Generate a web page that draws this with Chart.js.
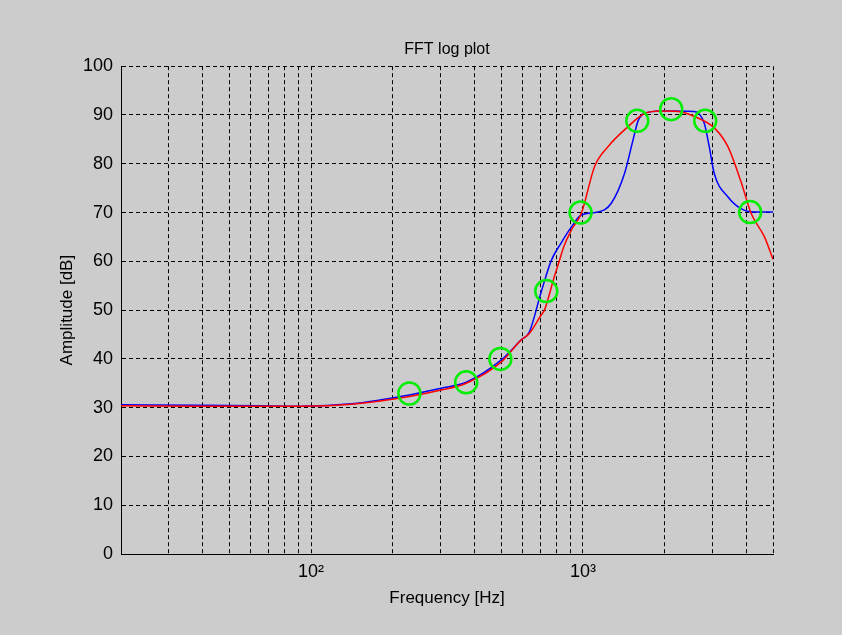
<!DOCTYPE html>
<html>
<head>
<meta charset="utf-8">
<script src="https://cdn.jsdelivr.net/npm/chart.js@4/dist/chart.umd.min.js"></script>
<style>
  html, body { margin: 0; padding: 0; background: #cccccc; }
  #fftChart { display: block; }
</style>
</head>
<body>
<canvas id="fftChart" width="842" height="635"></canvas>
<script>
// frequency grid (Hz) and the decades that get a label
const xTicks = [20, 30, 40, 50, 60, 70, 80, 90,
                100, 200, 300, 400, 500, 600, 700, 800, 900,
                1000, 2000, 3000, 4000, 5000];
const decadeTicks = [100, 1000];
const yTicks = [0, 10, 20, 30, 40, 50, 60, 70, 80, 90, 100];

// measured points (green circles)
const markerFreq = [230, 372, 497, 733, 980, 1584, 2112, 2817, 4120];
const markerAmp  = [32.9, 35.2, 40.0, 53.9, 70.0, 88.8, 91.2, 88.8, 70.1];

// blue curve
const blueFreq = [20, 40, 64, 92, 141, 230, 301, 372, 501, 593, 635, 702, 765, 832, 906, 986,
                  1138, 1271, 1422, 1527, 1597, 1680, 1941, 2566, 2793, 2914, 3040, 3416, 3814, 4263, 5000];
const blueAmp  = [30.6, 30.5, 30.4, 30.3, 30.8, 32.6, 34.0, 35.2, 39.8, 43.9, 45.5, 53.7, 60.2, 63.8, 67.0, 69.5,
                  70.1, 71.9, 78.0, 84.8, 88.9, 90.3, 90.8, 90.7, 88.3, 83.5, 78.0, 73.2, 70.8, 70.1, 70.1];

// red curve
const redFreq = [20, 40, 64, 92, 141, 230, 301, 372, 501, 593, 635, 702, 722, 784, 820, 850, 906, 986,
                 1103, 1236, 1464, 1684, 1941, 2235, 2570, 3047, 3413, 3814, 4157, 4652, 5000];
const redAmp  = [30.4, 30.3, 30.3, 30.3, 30.7, 32.3, 33.6, 35.0, 39.4, 43.9, 45.2, 49.0, 50.0, 56.8, 60.2, 63.0, 66.4, 69.8,
                 79.4, 83.5, 87.6, 90.3, 90.8, 90.7, 89.7, 87.3, 83.5, 76.3, 69.8, 65.0, 60.4];

const toPoints = (fs, as) => fs.map((f, i) => ({ x: f, y: as[i] }));

// white plot area, solid box and inward tick marks
const axesFrame = {
  id: 'axesFrame',
  beforeDraw(chart) {
    const { ctx, chartArea: a } = chart;
    ctx.save();
    ctx.fillStyle = '#ffffff';
    ctx.fillRect(a.left, a.top, a.right - a.left, a.bottom - a.top);
    ctx.restore();
  },
  beforeDatasetsDraw(chart) {
    const { ctx, chartArea: a, scales: { x, y } } = chart;
    ctx.save();
    ctx.strokeStyle = '#000000';
    ctx.lineWidth = 1;
    ctx.beginPath();
    xTicks.forEach(v => {
      const px = Math.round(x.getPixelForValue(v)) + 0.5;
      const len = decadeTicks.includes(v) ? 7 : 4;
      ctx.moveTo(px, a.bottom); ctx.lineTo(px, a.bottom - len);
      ctx.moveTo(px, a.top); ctx.lineTo(px, a.top + len);
    });
    yTicks.forEach(v => {
      const py = Math.round(y.getPixelForValue(v)) + 0.5;
      ctx.moveTo(a.left, py); ctx.lineTo(a.left + 7, py);
      ctx.moveTo(a.right, py); ctx.lineTo(a.right - 7, py);
    });
    ctx.stroke();
    ctx.strokeRect(Math.round(a.left) + 0.5, Math.round(a.top) + 0.5,
                   Math.round(a.right - a.left) - 1, Math.round(a.bottom - a.top) - 1);
    ctx.restore();
  }
};

Chart.defaults.font.family = '"Liberation Sans", Arial, sans-serif';
Chart.defaults.color = '#000000';

new Chart(document.getElementById('fftChart'), {
  type: 'line',
  data: {
    datasets: [
      {
        data: toPoints(markerFreq, markerAmp),
        showLine: false,
        pointRadius: 11,
        pointBorderWidth: 2.5,
        pointBorderColor: '#00ee00',
        pointBackgroundColor: 'rgba(0,0,0,0)'
      },
      {
        data: toPoints(redFreq, redAmp),
        borderColor: '#ff0000',
        borderWidth: 1.5,
        pointRadius: 0,
        cubicInterpolationMode: 'monotone'
      },
      {
        data: toPoints(blueFreq, blueAmp),
        borderColor: '#0000ff',
        borderWidth: 1.5,
        pointRadius: 0,
        cubicInterpolationMode: 'monotone'
      }
    ]
  },
  options: {
    responsive: false,
    animation: false,
    layout: { padding: { left: 0, right: 69, top: 0, bottom: 0 } },
    plugins: {
      legend: { display: false },
      tooltip: { enabled: false },
      title: {
        display: true,
        text: 'FFT log plot',
        fullSize: false,
        font: { size: 16, weight: 'normal' },
        padding: { top: 40, bottom: 7 }
      }
    },
    scales: {
      x: {
        type: 'logarithmic',
        min: 20,
        max: 5000,
        afterBuildTicks: s => { s.ticks = xTicks.map(v => ({ value: v })); },
        afterFit: s => { s.height = 81; },
        grid: { color: '#000000', lineWidth: 1, drawTicks: false },
        border: { display: true, color: '#000000', width: 1, dash: [4, 3] },
        ticks: {
          autoSkip: false,
          maxRotation: 0,
          padding: 7,
          font: { size: 18 },
          callback: v => v === 100 ? '10²' : v === 1000 ? '10³' : ''
        },
        title: {
          display: true,
          text: 'Frequency [Hz]',
          font: { size: 17 },
          padding: { top: 0, bottom: 26 }
        }
      },
      y: {
        min: 0,
        max: 100,
        afterBuildTicks: s => { s.ticks = yTicks.map(v => ({ value: v })); },
        afterFit: s => { s.width = 121; },
        grid: { color: '#000000', lineWidth: 1, drawTicks: false },
        border: { display: true, color: '#000000', width: 1, dash: [4, 3] },
        ticks: { padding: 8, font: { size: 18 } },
        title: {
          display: true,
          text: 'Amplitude [dB]',
          font: { size: 17 },
          padding: { top: 57, bottom: 0 }
        }
      }
    }
  }
});
</script>
</body>
</html>
